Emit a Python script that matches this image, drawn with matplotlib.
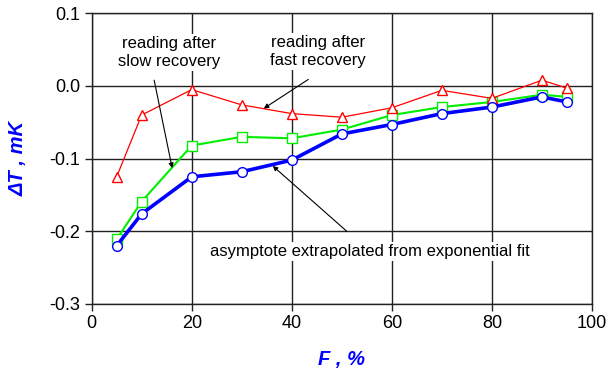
import matplotlib
matplotlib.use("Agg")
import matplotlib.pyplot as plt

plt.rcParams['font.family'] = ['Liberation Sans', 'DejaVu Sans']

# F, % values
F = [5, 10, 20, 30, 40, 50, 60, 70, 80, 90, 95]

# reading after fast recovery (red)
fast = [-0.125, -0.040, -0.005, -0.026, -0.038, -0.043, -0.030, -0.006, -0.017, 0.008, -0.003]
# reading after slow recovery (green)
slow = [-0.211, -0.159, -0.082, -0.070, -0.072, -0.060, -0.040, -0.029, -0.022, -0.012, -0.015]
# asymptote from exponential fit (blue)
asym = [-0.220, -0.176, -0.125, -0.118, -0.102, -0.066, -0.053, -0.038, -0.029, -0.015, -0.022]

xticks = [0, 20, 40, 60, 80, 100]
yticks = [-0.3, -0.2, -0.1, 0.0, 0.1]
ytick_labels = ["-0.3", "-0.2", "-0.1", "0.0", "0.1"]

fig = plt.figure(figsize=(6.12, 3.73), dpi=100)
ax = fig.add_axes([0.1497, 0.185, 0.8176, 0.7793])

ax.plot(F, slow, color='#00ee00', lw=1.5, marker='s', ms=7,
        mfc='white', mec='#00ee00', mew=1.0, zorder=3)
ax.plot(F, fast, color='red', lw=0.9, marker='^', ms=7.5,
        mfc='white', mec='red', mew=1.0, zorder=3)
ax.plot(F, asym, color='blue', lw=2.6, marker='o', ms=7,
        mfc='white', mec='blue', mew=1.0, zorder=4)

ax.set_xlim(0, 100)
ax.set_ylim(-0.3, 0.1)
ax.set_xticks(xticks)
ax.set_yticks(yticks)
ax.set_yticklabels(ytick_labels)
ax.grid(True, color='#222222', lw=1.0)
ax.set_axisbelow(True)
for s in ax.spines.values():
    s.set_color('#222222')
    s.set_linewidth(1.0)
ax.tick_params(direction='out', length=5, width=1, color='#222222',
               labelsize=13, pad=3)

ax.set_xlabel("F , %", fontsize=14.5, fontweight='bold', style='italic',
              color='blue', labelpad=13)
ax.set_ylabel("ΔT , mK", fontsize=14.5, fontweight='bold', style='italic',
              color='blue', labelpad=16)

box = dict(fc='white', ec='none', pad=1.5)
ax.text(15.4, 0.0454, "reading after\nslow recovery", ha='center', va='center',
        fontsize=12, linespacing=1.25, bbox=box, zorder=5)
ax.text(45.2, 0.0468, "reading after\nfast recovery", ha='center', va='center',
        fontsize=12, linespacing=1.25, bbox=box, zorder=5)
ax.text(55.7, -0.228, "asymptote extrapolated from exponential fit",
        ha='center', va='center', fontsize=12, bbox=box, zorder=5)

arrow = dict(arrowstyle='-|>', color='black', lw=0.8, mutation_scale=7,
             shrinkA=0, shrinkB=0)
ax.annotate('', xy=(16.1, -0.113), xytext=(12.5, 0.008), arrowprops=arrow, zorder=6)
ax.annotate('', xy=(34.4, -0.031), xytext=(43.3, 0.009), arrowprops=arrow, zorder=6)
ax.annotate('', xy=(36.2, -0.110), xytext=(51.0, -0.200), arrowprops=arrow, zorder=6)

fig.savefig("out.png", dpi=100)
